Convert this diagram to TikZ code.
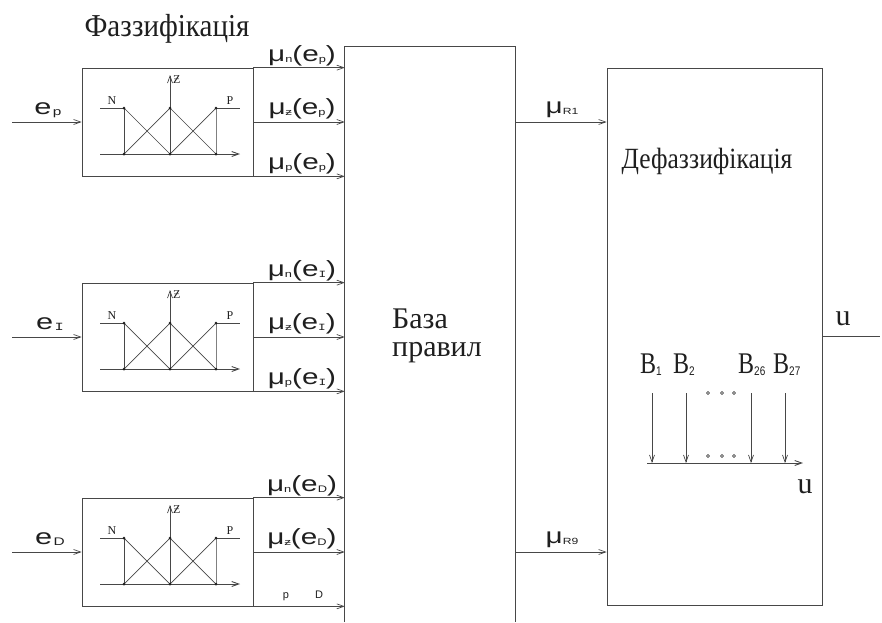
\documentclass[tikz,border=0pt]{standalone}
\usepackage{fontspec}
\setmainfont{Liberation Serif}
\setsansfont{Liberation Sans}
\setmonofont{Liberation Mono}
\usetikzlibrary{arrows.meta}
\definecolor{lc}{gray}{0.28}
\definecolor{tc}{gray}{0.12}
\newcommand\mlab[2]{\scalebox{1.35}[1]{\fontsize{22}{22}\selectfont\sffamily μ\raisebox{-1pt}{\fontsize{9.5}{9.5}\selectfont #1}(e\raisebox{-1pt}{\fontsize{9.5}{9.5}\selectfont #2})}}
\newcommand\elab[1]{\scalebox{1.4}[1]{\fontsize{22}{22}\selectfont\sffamily e\kern1pt\raisebox{-1pt}{\fontsize{11}{11}\selectfont #1}}}
\newcommand\rlab[1]{\scalebox{1.35}[1]{\fontsize{22}{22}\selectfont\sffamily μ\raisebox{-1pt}{\fontsize{9}{9}\selectfont #1}}}
\newcommand\blab[1]{\scalebox{1}[1.25]{\fontsize{24}{24}\selectfont B\raisebox{-2pt}{\sffamily\fontsize{10}{10}\selectfont #1}}}
\newcommand\fzplot[2]{%
\begin{scope}[shift={(0,#1)}]
 \draw[ln] (100,40) -- (124,40);
 \draw[ln] (216,40) -- (240,40);
 \draw[arr, line width=0.9pt] (100,86) -- (240,86);
 \draw[arr] (170,86) -- (170,7);
 \draw[ln] (124,40) -- (124,86);
 \draw[ln] (124,40) -- (170,86);
 \draw[ln] (124,86) -- (170,40);
 \draw[ln] (170,40) -- (216,86);
 \draw[ln] (170,86) -- (216,40);
 \draw[ln, draw=gray] (216,40) -- (216,86);
 \foreach \p in {(124,40),(170,40),(216,40),(124,86),(170,86),(216,86)} \fill[tc] \p circle (1.5);
 \node[small, anchor=base] (N#2) at (112,36) {N};
 \node[small, anchor=base] (P#2) at (230,36) {P};
 \node[small, anchor=base west] (Z#2) at (173,15) {Ƶ};
\end{scope}}
\begin{document}
\begin{tikzpicture}[x=1pt,y=-1pt,
  ln/.style={draw=lc, line width=0.7pt},
  arr/.style={ln, -{Straight Barb[length=7pt,width=5pt]}},
  fbox/.style={ln, rectangle, minimum width=171pt, minimum height=108pt, inner sep=0pt},
  txt/.style={text=tc, inner sep=0pt},
  small/.style={txt, font=\fontsize{12}{12}\selectfont},
  big/.style={txt, font=\fontsize{30}{30}\selectfont}]
\useasboundingbox (0,0) rectangle (882,622);

% rule base (open at the bottom)
\node[inner sep=0pt, minimum width=170pt, minimum height=575pt] (rb) at (430,334.5) {};
\draw[ln] (rb.south west) -- (rb.north west) -- (rb.north east) -- (rb.south east);
\node[big, anchor=base west] (rbt1) at (392,328) {База};
\node[big, anchor=base west] (rbt2) at (392,356) {правил};

% defuzzification box
\node[ln, rectangle, minimum width=215pt, minimum height=537pt, inner sep=0pt] (df) at (714.5,336.5) {};
\node[txt, anchor=base] (dft) at (707,168) {\scalebox{1}[1.15]{\fontsize{25.5}{25.5}\selectfont Дефаззифікація}};

% title
\node[txt, anchor=base] (title) at (167,36) {\scalebox{1}[1.1]{\fontsize{29}{29}\selectfont Фаззифікація}};

% fuzzification boxes
\node[fbox] (f1) at (167.5,122) {};
\node[fbox] (f2) at (167.5,337) {};
\node[fbox] (f3) at (167.5,552) {};
\fzplot{68}{1}
\fzplot{283}{2}
\fzplot{498}{3}

% inputs
\coordinate (in1) at (12,122);
\coordinate (in2) at (12,337);
\coordinate (in3) at (12,552);
\draw[arr] (in1) -- (f1.west);
\draw[arr] (in2) -- (f2.west);
\draw[arr] (in3) -- (f3.west);
\node[txt, anchor=base] (e1) at (48,114) {\elab{p}};
\node[txt, anchor=base] (e2) at (50,329) {\elab{\ttfamily I}};
\node[txt, anchor=base] (e3) at (50,544) {\elab{D}};

% outputs of fuzzification
\foreach \f in {f1,f2,f3} {
  \draw[arr] (\f.north east) -- (\f.north east -| rb.west);
  \draw[arr] (\f.east) -- (\f.east -| rb.west);
  \draw[arr] (\f.south east) -- (\f.south east -| rb.west);
}
\node[txt, anchor=base] (m11) at (302,61) {\mlab{n}{p}};
\node[txt, anchor=base] (m12) at (302,114) {\mlab{ƶ}{p}};
\node[txt, anchor=base] (m13) at (302,169) {\mlab{p}{p}};
\node[txt, anchor=base] (m21) at (302,276) {\mlab{n}{\ttfamily I}};
\node[txt, anchor=base] (m22) at (302,329) {\mlab{ƶ}{\ttfamily I}};
\node[txt, anchor=base] (m23) at (302,384) {\mlab{p}{\ttfamily I}};
\node[txt, anchor=base] (m31) at (302,491) {\mlab{n}{D}};
\node[txt, anchor=base] (m32) at (302,544) {\mlab{ƶ}{D}};
\node[txt, anchor=base, font=\sffamily\fontsize{11}{11}\selectfont] (m33a) at (286,598) {p};
\node[txt, anchor=base, font=\sffamily\fontsize{11}{11}\selectfont] (m33b) at (319,598) {D};

% rule base to defuzzification
\coordinate (r1) at (515,122);
\coordinate (r9) at (515,552);
\draw[arr] (r1) -- (r1 -| df.west);
\draw[arr] (r9) -- (r9 -| df.west);
\node[txt, anchor=base] (mr1) at (562,113) {\rlab{R1}};
\node[txt, anchor=base] (mr9) at (562,543) {\rlab{R9}};

% output
\coordinate (uo) at (880,336.5);
\draw[ln] (df.east) -- (uo);
\node[txt, anchor=base, font=\fontsize{30}{30}\selectfont] (ul) at (843,325) {u};

% inner defuzzification plot
\coordinate (ax0) at (647,463);
\coordinate (ax1) at (803,463);
\draw[arr, line width=0.9pt] (ax0) -- (ax1);
\foreach \x in {652,686,751,785} \draw[arr] (\x,393) -- (\x,463);
\foreach \x in {708,722,734} {
  \draw[tc, line width=0.6pt] (\x,393) circle (1.5);
  \draw[tc, line width=0.6pt] (\x,456) circle (1.5);
}
\node[txt, anchor=base west] (b1) at (640,373) {\blab{1}};
\node[txt, anchor=base west] (b2) at (673,373) {\blab{2}};
\node[txt, anchor=base west] (b26) at (738,373) {\blab{26}};
\node[txt, anchor=base west] (b27) at (773,373) {\blab{27}};
\node[txt, anchor=base, font=\fontsize{30}{30}\selectfont] (ua) at (805,493) {u};
\end{tikzpicture}
\end{document}
